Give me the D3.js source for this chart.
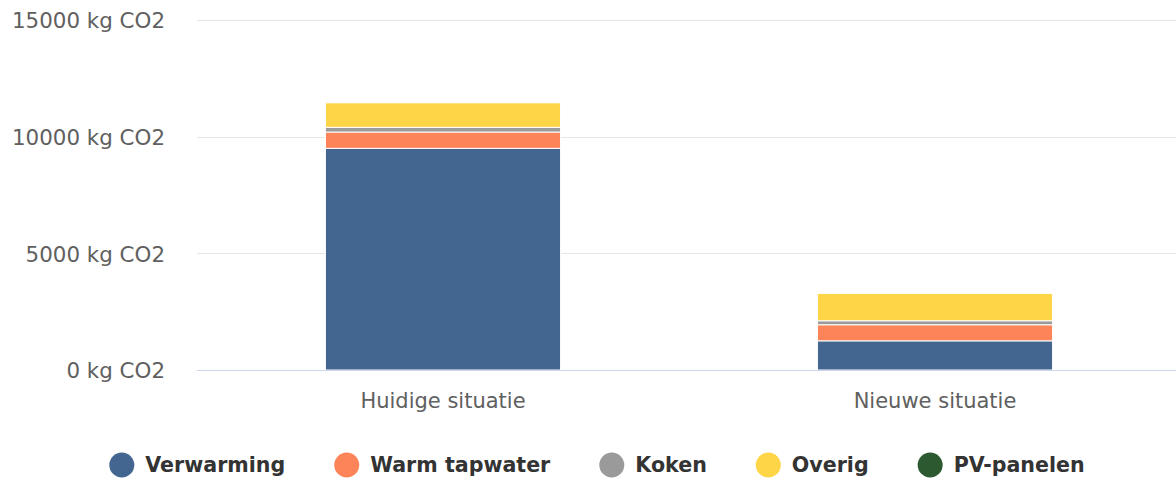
<!DOCTYPE html>
<html>
<head>
<meta charset="utf-8">
<script src="https://cdn.jsdelivr.net/npm/d3@7"></script>
<style>
    body { margin: 0; background: #fff; }
    svg { display: block; font-family: "DejaVu Sans", sans-serif; }
</style>
</head>
<body>
<svg id="chart" width="1176" height="484"></svg>
<script>
// categories and series (kg CO2)
const categories = ["Huidige situatie", "Nieuwe situatie"];
const seriesNames = ["Verwarming", "Warm tapwater", "Koken", "Overig", "PV-panelen"];
const seriesColors = ["#42668f", "#fd8459", "#9a9a9a", "#fed546", "#2d5930"];
const verwarming = [9500, 1250];
const warmTapwater = [700, 690];
const koken = [200, 170];
const overig = [1050, 1175];
const pvPanelen = [0, 0];
const yTicks = [0, 5000, 10000, 15000];

const seriesValues = [verwarming, warmTapwater, koken, overig, pvPanelen];

// rows for d3.stack
const rows = categories.map((c, i) => {
    let row = { category: c };
    seriesNames.forEach((s, j) => row[s] = seriesValues[j][i]);
    return row;
});

const svg = d3.select("#chart");
const plotLeft = 197, plotRight = 1181, plotTop = 20, plotBottom = 370;

const x = d3.scaleBand()
    .domain(categories)
    .range([plotLeft, plotRight])
    .paddingInner(0.52)
    .paddingOuter(0.26);

const y = d3.scaleLinear()
    .domain([0, 15000])
    .range([plotBottom, plotTop]);

// gridlines
svg.append("g").attr("class", "grid")
    .selectAll("line")
    .data(yTicks.filter(t => t > 0))
    .join("line")
    .attr("x1", plotLeft).attr("x2", 1176)
    .attr("y1", d => Math.round(y(d)) + 0.5)
    .attr("y2", d => Math.round(y(d)) + 0.5)
    .attr("stroke", "#e6e6e6")
    .attr("stroke-width", 1);

// y axis labels
const yAxis = d3.axisLeft(y).tickValues(yTicks).tickSize(0).tickPadding(0)
    .tickFormat(d => `${d} kg CO2`);
svg.append("g")
    .attr("transform", "translate(165,0)")
    .call(yAxis)
    .call(g => g.select(".domain").remove())
    .call(g => g.selectAll("text")
        .attr("fill", "#606060")
        .attr("dy", "0.36em")
        .style("font-size", "21.4px")
        .style("font-family", "DejaVu Sans, sans-serif"));

// stacked bars
const stack = d3.stack().keys(seriesNames);
const layers = stack(rows);

svg.append("g").attr("class", "bars")
    .selectAll("g")
    .data(layers)
    .join("g")
    .attr("fill", (d, i) => seriesColors[i])
    .selectAll("rect")
    .data(d => d.filter(p => p[1] - p[0] > 0))
    .join("rect")
    .attr("x", d => x(d.data.category) + 0.5)
    .attr("width", x.bandwidth() - 1)
    .attr("y", d => y(d[1]))
    .attr("height", d => y(d[0]) - y(d[1]))
    .attr("stroke", "#fff")
    .attr("stroke-width", 1);

// x axis line
svg.append("line")
    .attr("x1", plotLeft).attr("x2", 1176)
    .attr("y1", plotBottom + 0.5).attr("y2", plotBottom + 0.5)
    .attr("stroke", "#ccd6eb")
    .attr("stroke-width", 1);

// x axis labels
const xAxis = d3.axisBottom(x).tickSize(0).tickPadding(0);
svg.append("g")
    .attr("transform", `translate(0,${plotBottom})`)
    .call(xAxis)
    .call(g => g.select(".domain").remove())
    .call(g => g.selectAll("text")
        .attr("fill", "#606060")
        .attr("dy", 0)
        .attr("y", 38)
        .style("font-size", "21px")
        .style("font-family", "DejaVu Sans, sans-serif"));

// legend
const legend = svg.append("g").attr("class", "legend");
const items = legend.selectAll("g")
    .data(seriesNames)
    .join("g");

items.append("circle")
    .attr("r", 12.5)
    .attr("cx", 12.5)
    .attr("cy", 0)
    .attr("fill", (d, i) => seriesColors[i]);

items.append("text")
    .attr("x", 36)
    .attr("y", 0)
    .attr("dy", "0.36em")
    .attr("fill", "#333")
    .style("font-size", "20.6px")
    .style("font-weight", "bold")
    .text(d => d);

const legendY = 465;
items.each(function() {
    const w = 36 + this.querySelector("text").getComputedTextLength();
    d3.select(this).attr("data-w", w);
});
const widths = items.nodes().map(n => +n.getAttribute("data-w"));
const gap = 49;
const total = d3.sum(widths) + gap * (widths.length - 1);
let start = 597 - total / 2;
items.attr("transform", (d, i) => {
    const t = `translate(${start},${legendY})`;
    start += widths[i] + gap;
    return t;
});
</script>
</body>
</html>
